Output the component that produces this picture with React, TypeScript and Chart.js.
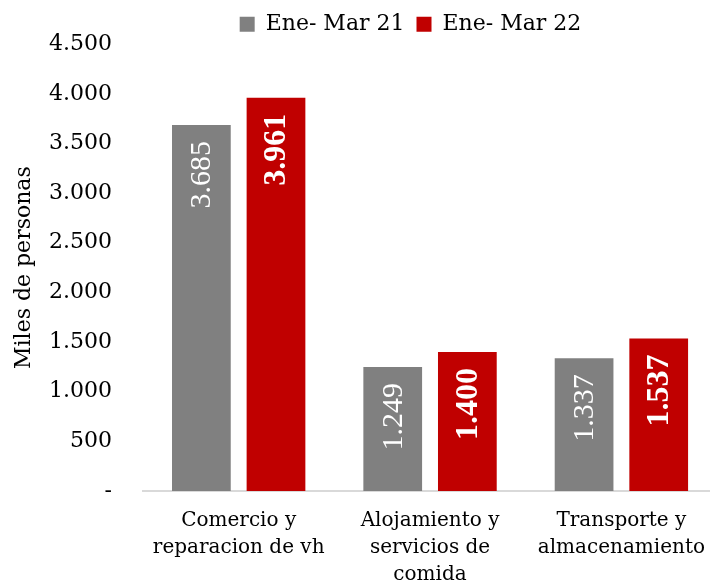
import { useEffect, useRef } from "react";
import { Chart, registerables } from "chart.js";
Chart.register(...registerables);

const categories: string[][] = [
  ["Comercio y", "reparacion de vh"],
  ["Alojamiento y", "servicios de", "comida"],
  ["Transporte y", "almacenamiento"],
];
const seriesNames = ["Ene- Mar 21", "Ene- Mar 22"];
const series21 = [3685, 1249, 1337];
const series22 = [3961, 1400, 1537];
const yMax = 4500;
const yStep = 500;
const yTitle = "Miles de personas";

const FONT = "'DejaVu Serif', serif";
const LABEL_FONT = "'Liberation Serif', serif";

function fmt(v: number): string {
  return String(Math.round(v)).replace(/\B(?=(\d{3})+(?!\d))/g, ".");
}

const legendPatch = {
  id: "legendPatch",
  beforeInit(chart: any) {
    const lg: any = chart.legend;
    if (lg) {
      const f = lg.fit.bind(lg);
      lg.fit = function () {
        f();
        this.height = 43;
      };
    }
  },
  afterLayout(chart: any) {
    const lg: any = chart.legend;
    if (lg) {
      lg.left += 50;
      lg.right += 50;
    }
  },
};

const valueLabels = {
  id: "valueLabels",
  afterDatasetsDraw(chart: any) {
    const ctx = chart.ctx;
    chart.data.datasets.forEach((ds: any, di: number) => {
      const meta = chart.getDatasetMeta(di);
      meta.data.forEach((bar: any, i: number) => {
        const v = ds.data[i] as number;
        ctx.save();
        ctx.translate(bar.x + 1, bar.y + 16);
        ctx.rotate(-Math.PI / 2);
        ctx.font = di === 1 ? `bold 32px ${LABEL_FONT}` : `30px ${LABEL_FONT}`;
        ctx.fillStyle = "#ffffff";
        ctx.textAlign = "right";
        ctx.textBaseline = "middle";
        ctx.fillText(fmt(v), 0, 0);
        ctx.restore();
      });
    });
  },
};

export default function App() {
  const ref = useRef<HTMLCanvasElement>(null);
  useEffect(() => {
    document.body.style.margin = "0";
    const chart = new Chart(ref.current!, {
      type: "bar",
      data: {
        labels: categories,
        datasets: [
          {
            label: seriesNames[0],
            data: series21,
            backgroundColor: "#808080",
            categoryPercentage: 0.78,
            barPercentage: 0.787,
          },
          {
            label: seriesNames[1],
            data: series22,
            backgroundColor: "#c00000",
            categoryPercentage: 0.78,
            barPercentage: 0.787,
          },
        ],
      },
      options: {
        responsive: false,
        animation: false,
        devicePixelRatio: 1,
        layout: { padding: 0 },
        plugins: {
          legend: {
            position: "top",
            labels: {
              font: { family: FONT, size: 22 },
              color: "#000",
              boxWidth: 15,
              boxHeight: 15,
              padding: 12,
            },
          },
          tooltip: { enabled: false },
        },
        scales: {
          x: {
            grid: { display: false, drawTicks: false },
            border: { display: true, color: "#d9d9d9", width: 2 },
            ticks: {
              font: { family: FONT, size: 20, lineHeight: 1.35 },
              color: "#000",
              padding: 16,
              maxRotation: 0,
              autoSkip: false,
            },
            afterFit: (s: any) => {
              s.height = 95;
            },
          },
          y: {
            min: 0,
            max: yMax,
            grid: { display: false, drawTicks: false },
            border: { display: false },
            ticks: {
              stepSize: yStep,
              font: { family: FONT, size: 22 },
              color: "#000",
              padding: 31,
              callback: (v: any) => (Number(v) === 0 ? "-" : fmt(Number(v))),
            },
            title: {
              display: true,
              text: yTitle,
              font: { family: FONT, size: 22 },
              color: "#000",
              padding: { top: 11, bottom: 0 },
            },
            afterFit: (s: any) => {
              s.width = 143;
            },
          },
        },
      },
      plugins: [legendPatch, valueLabels],
    });
    return () => chart.destroy();
  }, []);
  return (
    <div style={{ position: "absolute", left: 0, top: 0, width: 710, height: 586, overflow: "hidden" }}>
      <canvas ref={ref} width={721} height={586} />
    </div>
  );
}
